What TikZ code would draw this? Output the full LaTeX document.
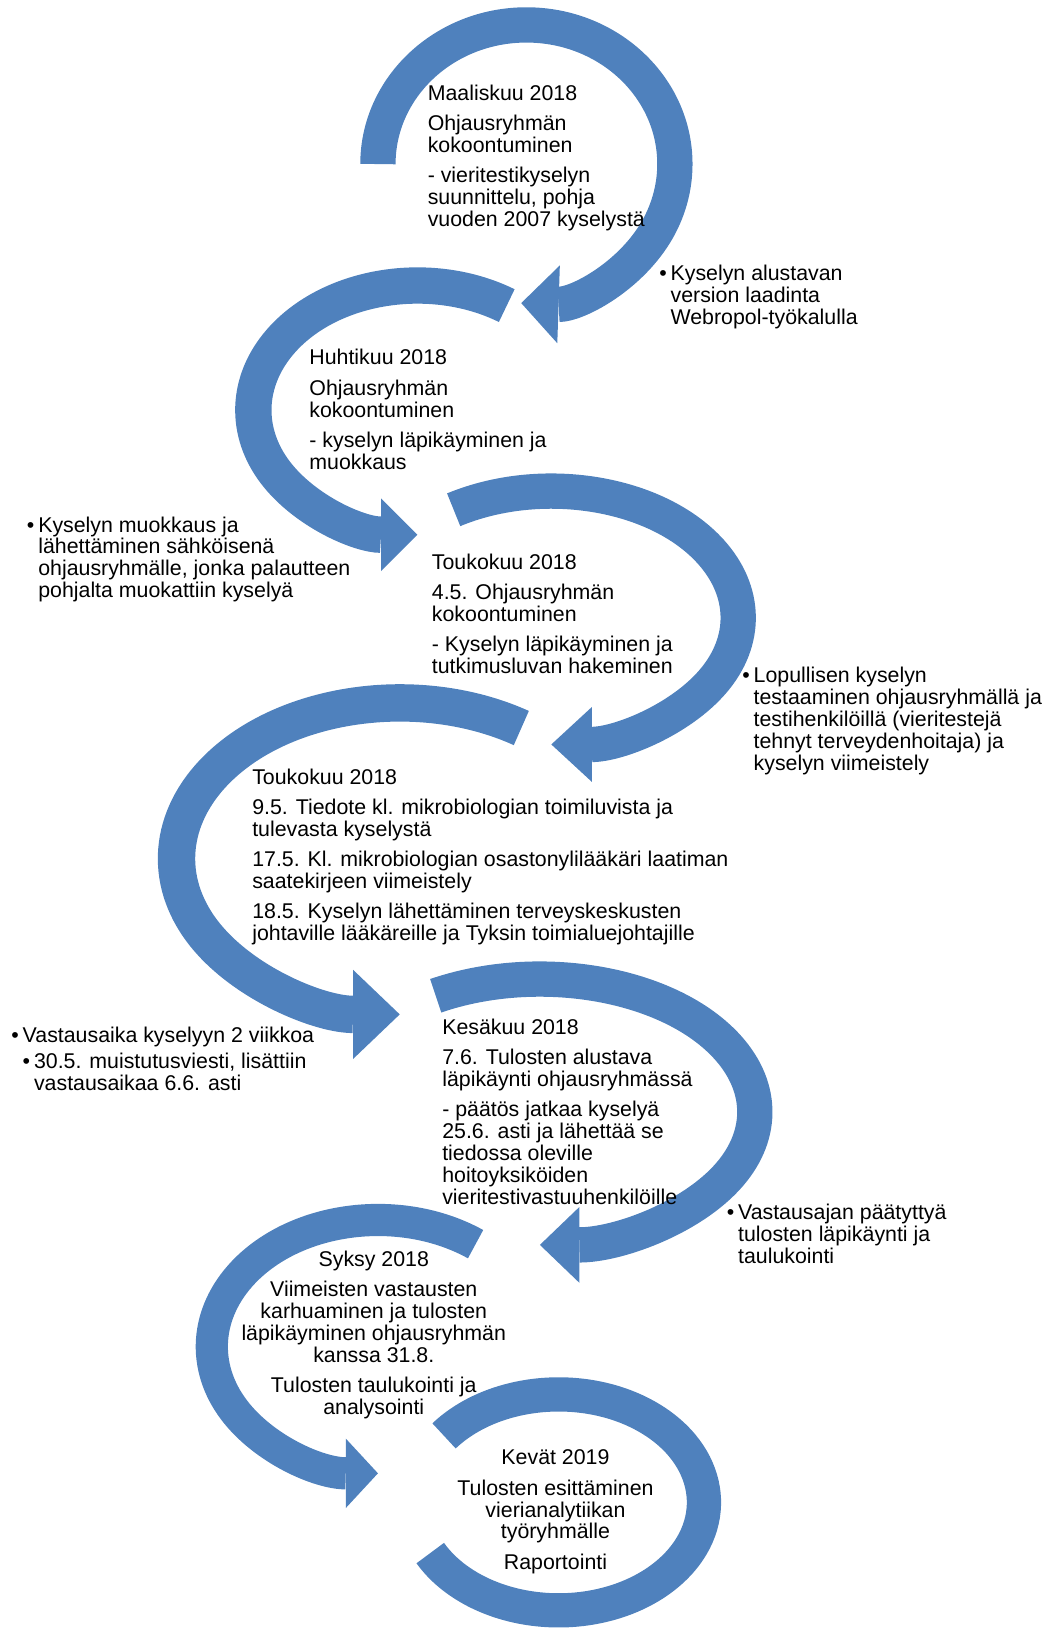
\documentclass[tikz,border=0pt]{standalone}
\usepackage{fontspec}
\setmainfont{Liberation Sans}
\usetikzlibrary{arrows.meta}
\definecolor{arrowblue}{RGB}{79,129,189}
\newcommand{\bul}{\makebox[6.2pt][l]{•}}
\newcommand{\ind}{\hspace*{6.2pt}}

\begin{document}
\begin{tikzpicture}[
    x=0.02cm, y=0.02cm,
    every node/.style={font=\fontsize{11.7}{12}\selectfont, inner sep=0pt, outer sep=0pt},
    phase/.style={align=left, anchor=north west},
    phasec/.style={align=center, anchor=north},
    note/.style={align=left, anchor=north west},
    band/.style={draw=arrowblue, line cap=butt},
    head/.style 2 args={-{Triangle[length=#1, width=#2, line width=0pt]}}
]
    \useasboundingbox (0,0) rectangle (1012,-1568);

    % circular arrows (last piece kept as one segment for the tip)
    \draw[band, line width=0.68cm, head={0.72cm}{1.5cm}]
        (507,-158) ++(180:143 and 134) arc[start angle=180, end angle=-30, x radius=143, y radius=134]
        arc[start angle=-30, end angle=-92, x radius=143, y radius=134];
    \draw[band, line width=0.7cm, head={0.7cm}{1.4cm}]
        (402,-395) ++(57:158 and 120) arc[start angle=57, end angle=210, x radius=158, y radius=120]
        arc[start angle=210, end angle=270, x radius=158, y radius=120];
    \draw[band, line width=0.68cm, head={0.78cm}{1.44cm}]
        (531,-595) ++(121.5:180 and 122) arc[start angle=121.5, end angle=-30, x radius=180, y radius=122]
        arc[start angle=-30, end angle=-90, x radius=180, y radius=122];
    \draw[band, line width=0.72cm, head={0.9cm}{1.72cm}]
        (385,-827) ++(57:215 and 150) arc[start angle=57, end angle=210, x radius=215, y radius=150]
        arc[start angle=210, end angle=270, x radius=215, y radius=150];
    \draw[band, line width=0.68cm, head={0.76cm}{1.46cm}]
        (520,-1071) ++(119:207 and 128) arc[start angle=119, end angle=-30, x radius=207, y radius=128]
        arc[start angle=-30, end angle=-90, x radius=207, y radius=128];
    \draw[band, line width=0.62cm, head={0.62cm}{1.34cm}]
        (364,-1297) ++(54:160 and 122) arc[start angle=54, end angle=210, x radius=160, y radius=122]
        arc[start angle=210, end angle=270, x radius=160, y radius=122];
    \draw[band, line width=0.66cm]
        (538,-1447) ++(142:140 and 104) arc[start angle=142, end angle=-152, x radius=140, y radius=104];

    % phases
    \node[phase] (mar) at (412,-81.5) {Maaliskuu 2018\\[4.6pt]
        Ohjausryhmän\\ kokoontuminen\\[4.6pt]
        - vieritestikyselyn\\ suunnittelu, pohja\\ vuoden 2007 kyselystä};
    \node[phase] (apr) at (298,-336.5) {Huhtikuu 2018\\[4.6pt]
        Ohjausryhmän\\ kokoontuminen\\[4.6pt]
        - kyselyn läpikäyminen ja\\ muokkaus};
    \node[phase] (may1) at (416,-533.5) {Toukokuu 2018\\[4.6pt]
        4.5. Ohjausryhmän\\ kokoontuminen\\[4.6pt]
        - Kyselyn läpikäyminen ja\\ tutkimusluvan hakeminen};
    \node[phase] (may2) at (243,-740.5) {Toukokuu 2018\\[4.6pt]
        9.5. Tiedote kl. mikrobiologian toimiluvista ja\\ tulevasta kyselystä\\[4.6pt]
        17.5. Kl. mikrobiologian osastonylilääkäri laatiman\\ saatekirjeen viimeistely\\[4.6pt]
        18.5. Kyselyn lähettäminen terveyskeskusten\\ johtaville lääkäreille ja Tyksin toimialuejohtajille};
    \node[phase] (jun) at (426,-981.5) {Kesäkuu 2018\\[4.6pt]
        7.6. Tulosten alustava\\ läpikäynti ohjausryhmässä\\[4.6pt]
        - päätös jatkaa kyselyä\\ 25.6. asti ja lähettää se\\ tiedossa oleville\\ hoitoyksiköiden\\ vieritestivastuuhenkilöille};
    \node[phasec] (aut) at (360,-1204.5) {Syksy 2018\\[4.6pt]
        Viimeisten vastausten\\ karhuaminen ja tulosten\\ läpikäyminen ohjausryhmän\\ kanssa 31.8.\\[4.6pt]
        Tulosten taulukointi ja\\ analysointi};
    \node[phasec] (spr) at (535,-1396.5) {Kevät 2019\\[4.6pt]
        Tulosten esittäminen\\ vierianalytiikan\\ työryhmälle\\[4.6pt]
        Raportointi};

    % notes between the phases
    \node[note] (n1) at (635,-255.5) {\bul Kyselyn alustavan\\ \ind version laadinta\\ \ind Webropol-työkalulla};
    \node[note] (n2) at (26,-497.5) {\bul Kyselyn muokkaus ja\\ \ind lähettäminen sähköisenä\\
        \ind ohjausryhmälle, jonka palautteen\\ \ind pohjalta muokattiin kyselyä};
    \node[note] (n3) at (715,-642.5) {\bul Lopullisen kyselyn\\ \ind testaaminen ohjausryhmällä ja\\
        \ind testihenkilöillä (vieritestejä\\ \ind tehnyt terveydenhoitaja) ja\\ \ind kyselyn viimeistely};
    \node[note] (n4) at (11,-989.5) {\bul Vastausaika kyselyyn 2 viikkoa\\[2.2pt]
        \ind\bul 30.5. muistutusviesti, lisättiin\\ \ind\ind vastausaikaa 6.6. asti};
    \node[note] (n5) at (700,-1159.5) {\bul Vastausajan päätyttyä\\ \ind tulosten läpikäynti ja\\ \ind taulukointi};
\end{tikzpicture}
\end{document}
